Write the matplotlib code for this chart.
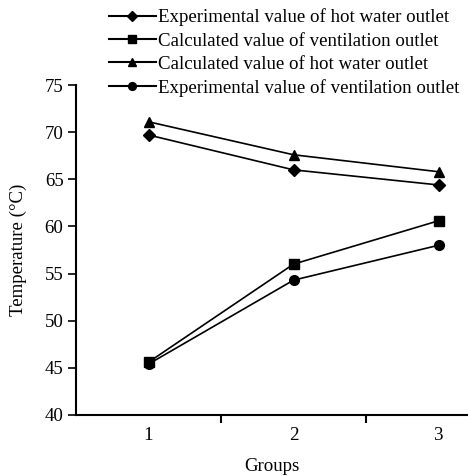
import matplotlib
matplotlib.use("Agg")
import matplotlib.pyplot as plt
from matplotlib.lines import Line2D

plt.rcParams['font.family'] = ['Liberation Serif', 'DejaVu Serif']

groups = [1, 2, 3]
exp_hot = [69.7, 66.0, 64.4]
calc_vent = [45.6, 56.0, 60.6]
calc_hot = [71.1, 67.6, 65.8]
exp_vent = [45.4, 54.3, 58.0]
labels = ["Experimental value of hot water outlet",
          "Calculated value of ventilation outlet",
          "Calculated value of hot water outlet",
          "Experimental value of ventilation outlet"]
yticks = [40, 45, 50, 55, 60, 65, 70, 75]

FS = 13.6
fig = plt.figure(figsize=(4.68, 4.76), dpi=100)
ax = fig.add_axes([76/468, 1-415/476, 1-76/468, (415-85)/476])

series = [(exp_hot, 'D', 6), (calc_vent, 's', 7), (calc_hot, '^', 7.5), (exp_vent, 'o', 7)]
handles = []
for (vals, m, ms), lab in zip(series, labels):
    ax.plot(groups, vals, color='black', marker=m, markersize=ms, lw=1.2, clip_on=False)
    handles.append(Line2D([], [], color='black', marker=m, markersize=ms*0.8, lw=1.5))

ax.set_xlim(0.5, 0.5 + (468-76)/145)
ax.set_ylim(40, 75)
ax.set_yticks(yticks)
ax.set_xticks([1.5, 2.5])
ax.set_xticklabels([])
ax.set_xticks(groups, minor=True)
ax.set_xticklabels([str(g) for g in groups], minor=True)
ax.tick_params(axis='x', which='minor', length=0, pad=9, labelsize=FS)
ax.tick_params(axis='x', which='major', length=6, width=1.5, direction='out')
ax.tick_params(axis='y', length=6, width=1.2, direction='out', labelsize=FS, pad=3)
for s in ['top', 'right']:
    ax.spines[s].set_visible(False)
for s in ['left', 'bottom']:
    ax.spines[s].set_linewidth(1.5)

ax.set_xlabel("Groups", fontsize=FS, labelpad=10)
ax.set_ylabel("Temperature (°C)", fontsize=FS, labelpad=13)

fig.legend(handles=handles, labels=labels, loc='upper left', bbox_to_anchor=(101/468, 1 - 1/476),
           frameon=False, fontsize=FS, handlelength=2.5, labelspacing=0.32,
           handletextpad=0.1, borderaxespad=0)

fig.savefig("out.png", dpi=100)
